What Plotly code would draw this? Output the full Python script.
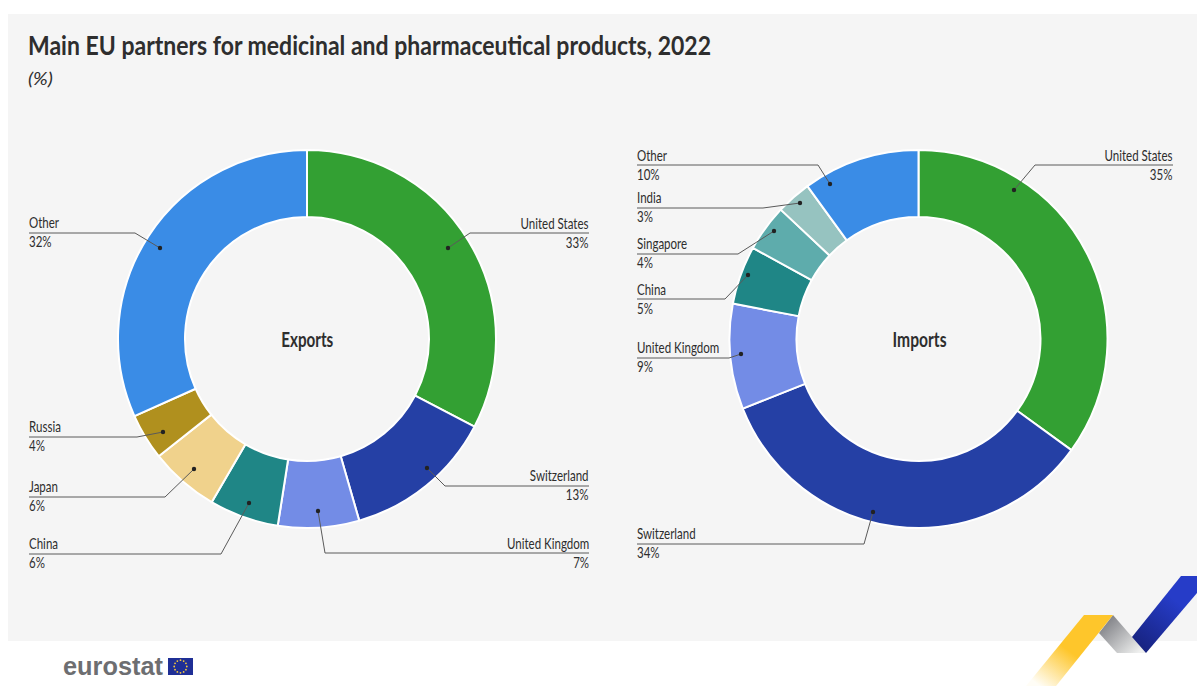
import base64
import json
import math
import plotly.graph_objects as go

W, H = 1197, 686
BODY_FONT = "Lato, sans-serif"
INK = "#2e2e2e"

TITLE = "Main EU partners for medicinal and pharmaceutical products, 2022"
UNIT = "(%)"
LOGO = "eurostat"

# Shares of EU trade in medicinal and pharmaceutical products, 2022 (%)
export_partners = ["United States", "Switzerland", "United Kingdom", "China", "Japan", "Russia", "Other"]
export_shares = [33, 13, 7, 6, 6, 4, 32]
export_colors = ["#33a033", "#2540a5", "#738ce6", "#1f8686", "#f0d28c", "#b0901e", "#3a8ce6"]

import_partners = ["United States", "Switzerland", "United Kingdom", "China", "Singapore", "India", "Other"]
import_shares = [35, 34, 9, 5, 4, 3, 10]
import_colors = ["#33a033", "#2540a5", "#738ce6", "#1f8686", "#5eacac", "#96c3c0", "#3a8ce6"]

# Callout layout per partner: anchor dot, elbow, end of rule, name and value text rows, side
export_callouts = {
    "United States": ((448, 248), (470, 233), 589, 222.5, 241.5, "right"),
    "Switzerland": ((427, 468), (445, 486), 589, 474.5, 493.5, "right"),
    "United Kingdom": ((318, 511), (325, 553), 589, 542.5, 561.5, "right"),
    "China": ((249, 503), (221, 554), 29, 542.5, 561.5, "left"),
    "Japan": ((194, 469), (165, 497), 29, 485.5, 504.5, "left"),
    "Russia": ((163, 432), (137, 437), 29, 425.5, 444.5, "left"),
    "Other": ((160, 248), (135, 233), 29, 221.5, 240.5, "left"),
}
import_callouts = {
    "United States": ((1014, 190), (1035, 165), 1173, 154.5, 173.5, "right"),
    "Switzerland": ((873, 512), (864, 544), 637, 532.5, 551.5, "left"),
    "United Kingdom": ((741, 354), (729, 358), 637, 346.5, 365.5, "left"),
    "China": ((748, 275), (725, 299), 637, 288.5, 307.5, "left"),
    "Singapore": ((774, 231), (738, 254), 637, 242.5, 261.5, "left"),
    "India": ((800, 203), (763, 208), 637, 196.5, 215.5, "left"),
    "Other": ((830, 184), (818, 165), 637, 154.5, 173.5, "left"),
}


def fx(x):
    return x / W


def fy(y):
    return 1 - y / H


def donut(labels, values, colors, left, right, top, bottom, name):
    return go.Pie(
        labels=labels, values=values, name=name,
        marker=dict(colors=colors, line=dict(color="#ffffff", width=2)),
        hole=0.6455, sort=False, direction="clockwise", rotation=0,
        textinfo="none", showlegend=False, automargin=False,
        domain=dict(x=[fx(left), fx(right)], y=[fy(bottom), fy(top)]),
    )


fig = go.Figure()
fig.add_trace(donut(export_partners, export_shares, export_colors, 118, 496, 150, 528, "Exports"))
fig.add_trace(donut(import_partners, import_shares, import_colors, 729.5, 1107.5, 150, 528, "Imports"))

shapes = [dict(type="rect", xref="paper", yref="paper", layer="below",
               x0=fx(8), x1=1, y0=fy(641), y1=fy(14),
               fillcolor="#f5f5f5", line_width=0)]
annotations = []


def text(x, y, s, size, anchor="left", weight=400, style="normal", color=INK, family=BODY_FONT):
    annotations.append(dict(
        xref="paper", yref="paper", x=fx(x), y=fy(y), text=s, showarrow=False,
        xanchor=anchor, yanchor="middle", align=anchor,
        font=dict(family=family, size=size, color=color, weight=weight, style=style),
        borderpad=0, borderwidth=0,
    ))


def callouts(partners, values, table):
    for partner, value in zip(partners, values):
        (dx, dy), (ex, ey), end, name_y, value_y, side = table[partner]
        path = f"M {fx(dx)} {fy(dy)} L {fx(ex)} {fy(ey)} L {fx(end)} {fy(ey)}"
        shapes.append(dict(type="path", xref="paper", yref="paper", path=path,
                           line=dict(color="#5a5a5a", width=1)))
        shapes.append(dict(type="circle", xref="paper", yref="paper",
                           x0=fx(dx - 2.2), x1=fx(dx + 2.2), y0=fy(dy + 2.2), y1=fy(dy - 2.2),
                           fillcolor="#222222", line_width=0))
        text(end, name_y, partner, 16, anchor=side)
        text(end, value_y, f"{value}%", 16, anchor=side)


callouts(export_partners, export_shares, export_callouts)
callouts(import_partners, import_shares, import_callouts)

text(28, 45, TITLE, 27, weight=700)
text(28, 78, UNIT, 18, style="italic")
text(307, 339, "Exports", 20, anchor="center", weight=700)
text(919, 339, "Imports", 20, anchor="center", weight=700)

# Footer wordmark and flag
text(63, 666, LOGO, 26, weight=700, color="#6d6e71", family="Liberation Sans, sans-serif")
shapes.append(dict(type="rect", xref="paper", yref="paper",
                   x0=fx(168), x1=fx(193), y0=fy(675), y1=fy(658),
                   fillcolor="#1f2f96", line_width=0))
for i in range(12):
    a = math.radians(i * 30)
    sx, sy = 180.5 + 6.3 * math.sin(a), 666.5 - 6.3 * math.cos(a)
    shapes.append(dict(type="circle", xref="paper", yref="paper",
                       x0=fx(sx - 0.9), x1=fx(sx + 0.9), y0=fy(sy + 0.9), y1=fy(sy - 0.9),
                       fillcolor="#f6c93c", line_width=0))

# Corner ribbon with gradient bands, drawn in its own SVG coordinate box
RIBBON_X, RIBBON_Y, RIBBON_W, RIBBON_H = 1000, 560, 197, 126
ribbon_svg = f"""<svg xmlns="http://www.w3.org/2000/svg" width="{RIBBON_W}" height="{RIBBON_H}" viewBox="1000 560 197 126">
<defs>
<linearGradient id="y" gradientUnits="userSpaceOnUse" x1="1085" y1="625" x2="1040" y2="686">
<stop offset="0" stop-color="#fec62b"/><stop offset="0.4" stop-color="#fec62b"/><stop offset="1" stop-color="#fffdf6"/></linearGradient>
<linearGradient id="g" gradientUnits="userSpaceOnUse" x1="1104" y1="622" x2="1136" y2="655">
<stop offset="0" stop-color="#818287"/><stop offset="1" stop-color="#eff0ef"/></linearGradient>
<linearGradient id="b" gradientUnits="userSpaceOnUse" x1="1175" y1="600" x2="1135" y2="650">
<stop offset="0" stop-color="#263cc8"/><stop offset="1" stop-color="#16217a"/></linearGradient>
</defs>
<polygon fill="url(#g)" points="1113,615 1146,653 1117,653 1099,633"/>
<polygon fill="url(#y)" points="1084,615 1113,615 1056,686 1026,686"/>
<polygon fill="url(#b)" points="1181,576 1197,576 1197,593 1146,653 1132,637"/>
</svg>"""
ribbon_uri = "data:image/svg+xml;base64," + base64.b64encode(ribbon_svg.encode()).decode()

fig.update_layout(
    width=W, height=H, margin=dict(l=0, r=0, t=0, b=0),
    paper_bgcolor="#ffffff", plot_bgcolor="#ffffff",
    shapes=shapes, annotations=annotations,
    images=[dict(source=ribbon_uri, xref="paper", yref="paper",
                 x=fx(RIBBON_X), y=fy(RIBBON_Y), sizex=RIBBON_W / W, sizey=RIBBON_H / H,
                 xanchor="left", yanchor="top", sizing="stretch", layer="above")],
)

# Condense the annotation text horizontally, since no condensed face is installed:
# fixed pixel widths for the headings, one ratio for the callout labels
fixed_widths = {TITLE: 683, UNIT: 25, "Exports": 52, "Imports": 54, LOGO: 100}
condense_script = """
var fixedWidths = %s;
document.querySelectorAll('.annotation-text').forEach(function (t) {
    var natural = t.getComputedTextLength();
    var target = fixedWidths[t.textContent] || natural * 0.72;
    t.setAttribute('textLength', target);
    t.setAttribute('lengthAdjust', 'spacingAndGlyphs');
});
""" % json.dumps(fixed_widths)

fig.write_html("out.html", config=dict(displayModeBar=False), post_script=condense_script)
